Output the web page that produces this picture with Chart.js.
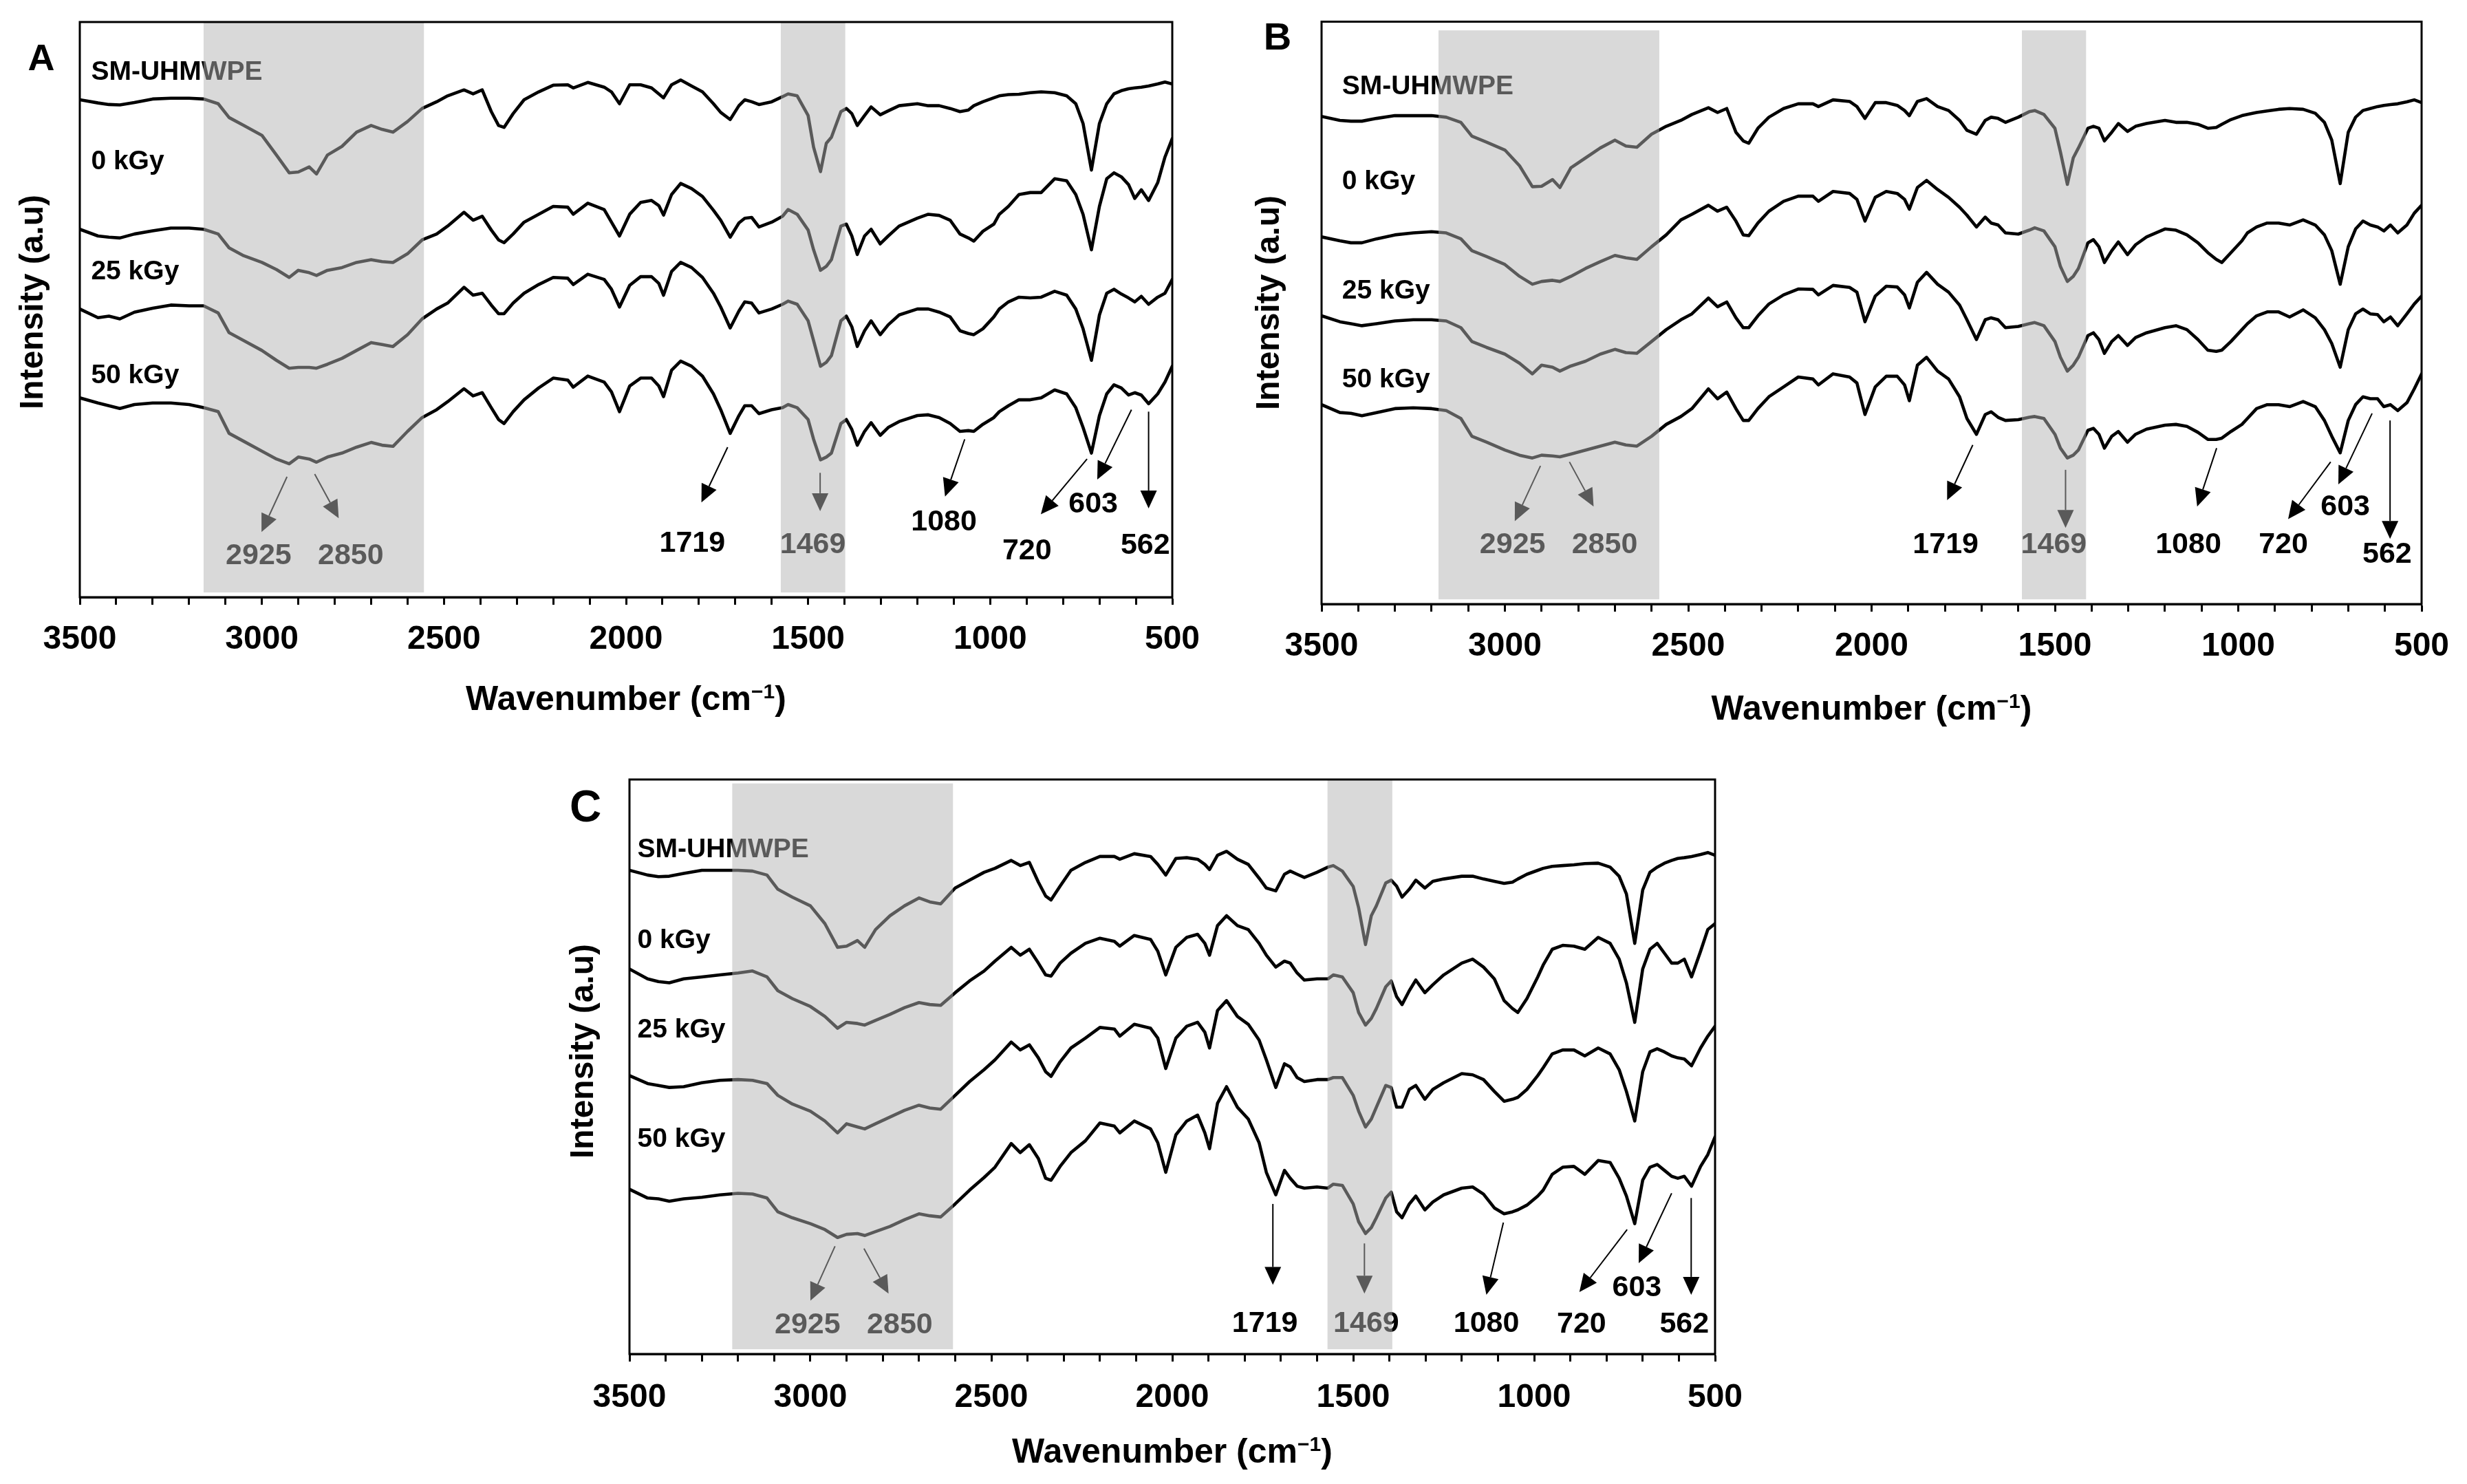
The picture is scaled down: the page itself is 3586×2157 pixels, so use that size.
<!DOCTYPE html>
<html>
<head>
<meta charset="utf-8">
<script src="https://cdn.jsdelivr.net/npm/chart.js@4.4.1/dist/chart.umd.min.js"></script>
<style>
html, body { margin: 0; padding: 0; background: #fff; }
#page { position: relative; width: 3586px; height: 2157px; overflow: hidden; background: #fff; }
canvas { position: absolute; }
</style>
</head>
<body>
<div id="page">
  <canvas id="chartA"></canvas>
  <canvas id="chartB"></canvas>
  <canvas id="chartC"></canvas>
</div>
<script>
// wavenumber grid (cm-1) shared by every spectrum
const wavenumbers = [3500, 3450, 3420, 3390, 3350, 3300, 3250, 3200, 3160, 3120, 3090, 3050, 3000, 2960, 2925, 2900, 2870, 2850, 2820, 2780, 2740, 2700, 2670, 2640, 2600, 2560, 2520, 2490, 2445, 2420, 2395, 2370, 2350, 2335, 2310, 2280, 2240, 2200, 2160, 2145, 2105, 2060, 2040,
  2018, 1990, 1960, 1930, 1910, 1897, 1875, 1850, 1820, 1790, 1760, 1740, 1714, 1690, 1674, 1655, 1635, 1600, 1570, 1555, 1530, 1500, 1485, 1466, 1450, 1436, 1410, 1395, 1380, 1365, 1345, 1327, 1302, 1280, 1250, 1200, 1170, 1140, 1110, 1083, 1060, 1045, 1020, 990, 975, 950, 921, 890, 860, 823, 790, 765, 745, 722, 700, 680, 660, 640, 620, 603, 585, 565, 540, 520, 500];

const seriesNames = ['SM-UHMWPE', '0 kGy', '25 kGy', '50 kGy'];
const tickLabels = ['500', '1000', '1500', '2000', '2500', '3000', '3500'];
const peakLabels = ['2925', '2850', '1719', '1469', '1080', '720', '603', '562'];

// panel A (offset intensity, a.u.)
const smA = [126, 125.2, 124.8, 124.7, 125.3, 126.2, 126.4, 126.4, 126.2, 125, 121.5, 119.5, 117, 112, 107.5, 107.7, 109, 107.2, 112, 114.2, 117.8, 119.5, 118.5, 117.8, 120.5, 123.8, 125.5, 127, 128.5, 127.5, 128.5, 123, 119.5, 119, 122.5, 126, 128, 129.7, 129.8, 129, 130.4, 129.2, 128,
  125, 129.8, 129.8, 129, 127.5, 126.5, 129.8, 131, 129.5, 128, 125, 122.8, 121, 124.5, 126, 125.5, 124.8, 125.5, 126.8, 127.5, 127, 122, 114, 107.8, 115, 116.5, 123, 123.8, 122.5, 119.5, 122, 124.2, 122.2, 123.2, 124.5, 125, 124.5, 124.5, 123.8, 123, 123.4, 124.5, 125.5, 126.5, 127, 127.3, 127.4, 127.8, 128, 127.8, 127, 125, 120, 108.2, 120, 125, 127.5, 128.3, 128.8, 129, 129.2, 129.5, 130, 130.5, 130];
const g0A = [93.2, 91.5, 91.2, 91, 92, 92.8, 93.5, 93.5, 93.2, 92, 88.5, 86.5, 84.8, 83, 81, 82.8, 82.2, 81.5, 82.8, 83.5, 84.8, 85.5, 85, 84.8, 87, 90.5, 92, 94, 97.5, 95.5, 96.5, 93, 90.5, 89.8, 92, 95, 97, 99, 98.8, 97, 99.8, 98.2, 95,
  91.5, 97, 100, 100.5, 99.2, 96.8, 102, 104.8, 103.5, 101.5, 98, 95.5, 91.2, 94.8, 96, 96.2, 93.8, 95, 96.5, 98.2, 97, 93, 88, 82.8, 83.8, 85.5, 94, 94.5, 91.5, 86.8, 91.5, 93.2, 89.5, 91.5, 94, 96, 97, 96.7, 95.5, 92, 91, 90.2, 92.7, 94.5, 97, 99, 102, 102.5, 102.5, 106, 105.5, 102, 97, 88, 99, 106, 107.5, 106.5, 104.5, 101, 103.2, 100.5, 105, 111.5, 116.2];
const g25A = [73, 70.8, 71.2, 70.5, 72.2, 73.2, 74, 73.8, 73.8, 72, 67, 65, 62.5, 60, 58, 58.2, 58.2, 58, 59, 60.5, 62.5, 64.5, 64, 63.5, 66.5, 70.5, 73, 74.5, 78.5, 76.5, 77, 74, 71.8, 71.8, 74.5, 77, 79.2, 81, 80.8, 79.2, 81.8, 80.5, 78,
  73.5, 79, 81.2, 81.2, 79.5, 76.5, 82.5, 84.8, 83.5, 81, 77, 73.5, 68.2, 72.5, 74.8, 74.5, 72, 73, 74.2, 75, 74.2, 70, 65, 58.5, 59.5, 61.2, 70, 71.2, 68.5, 63.5, 67.5, 70, 66.5, 69, 71.5, 73, 73, 72.2, 71, 67.5, 66.8, 66.5, 68, 71, 73, 74.8, 76, 75.8, 76, 77.5, 76.5, 73, 68, 60, 71.5, 77, 78, 76.8, 75.8, 74.8, 76.2, 74.2, 76, 77, 80.5];
const g50A = [50.5, 49.2, 48.5, 47.8, 48.8, 49.2, 49.2, 48.8, 48, 47, 41.5, 39.5, 37, 35, 33.8, 35.5, 35, 34.2, 35.5, 36.5, 38, 39.2, 38.5, 38.2, 42, 45.5, 47.5, 49.5, 52.8, 51, 51.8, 48, 45, 44, 47, 50, 53, 55.5, 55, 53.2, 56, 54.5, 52,
  47, 53.5, 55.5, 55.5, 53.5, 50.8, 57.5, 59.8, 58.5, 56, 51.5, 47.5, 41.5, 46, 48.5, 48.5, 46.5, 47.5, 48, 48.8, 48, 45, 40, 34.8, 35.5, 36.5, 44, 45, 42.5, 38.5, 42, 44.2, 41, 43, 44.5, 46, 46.2, 45.5, 44, 42, 42.2, 42, 43.8, 45.5, 47, 48.5, 50, 50, 50.5, 52.5, 51.5, 48, 43, 36.5, 46, 51.5, 53.8, 53, 51.2, 51.8, 51.2, 49, 51.5, 54.5, 58.5];

// panel B
const smB = [123.5, 122.5, 122.3, 122.3, 123, 123.7, 123.7, 123.7, 123.3, 122, 118.5, 117, 115, 111, 105.7, 105.8, 107.5, 105.5, 110.5, 113, 115.5, 117.5, 116, 115.7, 119, 121, 122.5, 124, 125.7, 124.5, 125.5, 119.5, 117.3, 116.7, 120.5, 123.3, 125.5, 126.7, 126.7, 126, 127.7, 127.3, 126,
  123, 127, 127, 126.3, 125, 123.7, 127.3, 128, 126, 125, 122.5, 120, 119, 122.5, 123.3, 123, 122, 123.3, 124.7, 125, 124, 120.5, 114.5, 106.3, 113, 115.5, 120.5, 121, 120.5, 117.3, 119.5, 121.7, 119.7, 121, 121.7, 122.5, 122, 122, 121.5, 120.5, 120.7, 121.5, 122.7, 123.7, 124, 124.5, 124.9, 125.3, 125.5, 125.3, 124.3, 122, 117.5, 106.5, 119.5, 123.3, 125, 125.5, 126, 126.3, 126.5, 126.7, 127.2, 127.7, 127];
const g0B = [93, 92, 91.5, 91.5, 92.5, 93.5, 94, 94.3, 94, 92.5, 89.5, 88, 86, 83, 81, 81.7, 82, 81.7, 83, 85, 86.7, 88.3, 87.7, 87.3, 90.5, 93.5, 97.3, 98.7, 101, 99.5, 100.5, 97, 93.5, 93.3, 96.5, 99.5, 102, 103.3, 103.3, 102, 104.5, 104, 102.5,
  97, 103, 104.5, 104, 102.5, 100, 105.5, 107.3, 105, 103, 100.5, 98.5, 95.5, 98, 96.5, 96, 94, 93.7, 94.7, 95.3, 94.5, 90.5, 85.5, 81.7, 83, 85, 91.5, 92.3, 90.5, 86.5, 89.5, 91.7, 88.5, 91, 93, 95, 94.7, 93.5, 91.5, 89, 87.3, 86.5, 89, 92, 94, 95.5, 96.5, 96.5, 96, 97.3, 96, 93.5, 89.5, 81, 90.5, 95, 97, 96, 95.5, 94.5, 96, 94, 96, 99, 101];
const g25B = [73, 71.5, 71, 70.5, 71, 71.7, 72, 72, 71.7, 70, 66.5, 65, 63.3, 61, 58.3, 60.5, 60, 59, 60.3, 61.5, 63.3, 64.5, 63.7, 63.5, 66.5, 69.5, 72, 73.5, 77.5, 75.3, 76.5, 72.5, 70, 70, 73, 76, 78.3, 79.8, 79.7, 78.3, 80.7, 80.2, 79,
  71.5, 78, 80.5, 80.3, 78.3, 75, 81.5, 84, 81, 79, 75.7, 72, 67, 72, 72.5, 72, 70, 70.3, 71, 71.3, 70.5, 66.5, 62.5, 59, 60.5, 62.5, 68, 68.7, 67, 63.5, 66.5, 68, 65.5, 67.5, 68.7, 70, 70.5, 69.5, 67, 64.3, 64, 64.3, 66.5, 69.5, 71, 73, 74, 74, 72.7, 74.5, 72.5, 69.5, 66, 60, 69.5, 73.5, 74.7, 73.5, 73.3, 71.5, 72.7, 70.5, 73.5, 76, 78];
const g50B = [50.5, 48.5, 48.3, 47.7, 48.5, 49.5, 49.7, 49.5, 49, 47, 42.5, 41, 39, 37.7, 37, 37.7, 37.5, 37.3, 38, 39, 40, 41, 40.3, 40, 42.5, 45.5, 47.5, 49.5, 54.5, 52, 53.7, 49.5, 46.5, 46.5, 49.5, 52.5, 55, 57.5, 57, 55.5, 58.3, 57.5, 56,
  48, 55, 57.7, 57.7, 55.5, 51.5, 60.5, 62.5, 59, 57, 52.5, 47, 43, 48, 48.7, 47.3, 46.5, 46.7, 47.3, 47.5, 47, 43, 39.5, 37, 37.7, 39, 44, 44.5, 43, 39.5, 42.5, 43.7, 41, 43, 44.3, 45.3, 45.5, 45, 43.5, 41.7, 41.7, 42, 43.7, 45.5, 47, 49.5, 50.5, 50.5, 50, 51.3, 50, 46.5, 42.5, 38.3, 46.5, 50.5, 52.5, 52, 52, 50, 50.5, 49, 51, 54.5, 58.3];

// panel C
const smC = [122.5, 121.3, 120.9, 121, 121.7, 122.5, 122.5, 122.5, 122.3, 121.3, 117.7, 115.7, 113.5, 109, 103, 103.3, 104.7, 103, 107.5, 111, 113.5, 115.5, 114.5, 114, 118, 120, 122, 123, 125, 123.7, 124.5, 119.5, 116, 115, 118.5, 122.5, 124.5, 126, 126, 125.3, 126.7, 126, 124,
  121.3, 125.5, 125.7, 125.3, 124, 122.7, 126.3, 127.3, 125.3, 124, 120.5, 118, 117.3, 121.5, 122.3, 121.5, 120.7, 122, 123.3, 123.7, 122.3, 118.4, 113, 103.7, 111, 113.5, 119.3, 120, 118.5, 115.7, 117.7, 120, 118, 119.7, 120.3, 121, 121, 120.3, 119.7, 119.2, 119.5, 120.3, 121.5, 122.5, 123, 123.5, 123.7, 123.9, 124.2, 124.3, 123.3, 121, 116.5, 104, 117.5, 122, 123.3, 124.3, 125, 125.5, 125.7, 126, 126.5, 127, 126.3];
const g0C = [97.5, 95, 94.3, 94, 95, 95.5, 96, 96.5, 97, 95.5, 92, 90, 88, 85.5, 82.5, 84, 83.7, 83.3, 84.5, 86, 87.7, 89, 88.5, 88.3, 91.5, 94.5, 97, 99.5, 103, 101, 102.5, 99, 96, 95.7, 99, 101.5, 104, 105.3, 104.5, 103.3, 106, 105, 102,
  96, 103, 105.5, 106.3, 104, 101, 108.5, 111, 108.5, 107.5, 104, 101, 98, 99.5, 99, 96.5, 94.7, 95, 95, 96, 95.5, 91.5, 86.5, 83.3, 85, 87.5, 93, 94.5, 90.5, 88.5, 92, 94.7, 91.5, 93.5, 96, 99, 100, 98, 95, 89.5, 87.5, 86.5, 90, 95.5, 98.5, 102.5, 103.5, 103.3, 102.5, 105.5, 104, 100, 94, 84, 97.5, 102.5, 104, 101.5, 99, 99, 100, 95.5, 102, 107.5, 109];
const g25C = [70.5, 68.5, 68, 67.5, 67.7, 68.7, 69.3, 69.5, 69.3, 68.5, 65.5, 63.3, 61.5, 59, 56, 58.3, 57.5, 57, 58.3, 60, 61.7, 63, 62.3, 62, 65.5, 69, 72, 74.5, 79, 77, 78.3, 75, 71.5, 70.3, 74, 77.5, 80, 82.7, 82.3, 80.5, 83.5, 82.5, 80,
  72.3, 80, 83, 84, 81.5, 77.5, 87, 89.5, 85.5, 83.5, 79.5, 74.5, 67.5, 73.5, 72.7, 70, 69, 69.5, 69.5, 70, 70, 65.5, 61.5, 57.5, 59.5, 62.5, 68, 67.5, 62.5, 62.5, 67, 68, 64.5, 67, 68.7, 71, 70.7, 69.5, 66.5, 64, 64.5, 65, 67, 70.5, 72.5, 76, 77, 77, 75.5, 77.5, 76, 72, 66.5, 59, 71.5, 76.5, 77.3, 76.5, 75.5, 75, 74.7, 73, 77.5, 80.5, 83];
const g50C = [41.7, 39.5, 39.3, 38.7, 39.3, 39.7, 40.3, 40.7, 40.5, 39.5, 36, 34.5, 33, 31.5, 29.5, 30.3, 30.5, 30, 31, 32.3, 34, 35.5, 35, 34.7, 38, 41.5, 44.7, 47.3, 53.3, 51, 53, 49.5, 44.5, 44, 47.5, 51, 54, 58.5, 57.7, 56, 59, 57, 53.5,
  46, 55.5, 59, 60.5, 56, 52, 63.5, 67.7, 62.5, 59.5, 53.5, 46, 40.3, 46.5, 44.5, 42.5, 42, 42.3, 42, 43, 42.7, 38, 33.5, 30.5, 32, 34.5, 39.5, 41, 36, 34.5, 38, 40, 36.5, 38.5, 40.3, 42, 42.3, 40.5, 37, 35.5, 36, 36.5, 37.7, 40, 41.5, 45.5, 47.3, 47.5, 45.5, 49, 48.5, 44.5, 40, 33, 44, 47.3, 48, 46.5, 45, 44.5, 45, 42.5, 47.5, 50.5, 55];

const FONT = '"Liberation Sans", Arial, Helvetica, sans-serif';
Chart.defaults.font.family = FONT;

// where each panel sits and where its annotations go (wavenumber, intensity)
const panels = [
  { id: 'chartA', letter: 'A', series: [smA, g0A, g25A, g50A], yMax: 145.7,
    x: 0, y: 0, w: 1800, h: 1080, pl: 116, pr: 96, pt: 32, axisH: 212, tickPad: 22, titleOff: 164,
    letterX: 60, letterY: 102, letterSize: 54, yTitleX: 49, yTitleY: 439,
    nameX: 3469, nameY: [133, 110.2, 82.4, 56],
    bands: [[3160, 2555, 1.2, 145.7], [1575, 1398, 1.2, 145.7]],
    arrows: [[2931, 30.5, 3001, 16.5], [2855, 31.2, 2789, 20], [1721, 38, 1793, 24], [1467, 31.5, 1467, 21.8], [1070, 40, 1124, 25.5], [734, 35, 861, 21], [612, 47.5, 706, 29.8], [565, 47, 565, 22.5]],
    peakPos: [[3009, 10.5], [2756, 10.5], [1818, 13.5], [1487, 13.2], [1127, 19], [899, 11.7], [717, 23.5], [574, 13]] },
  { id: 'chartB', letter: 'B', series: [smB, g0B, g25B, g50B], yMax: 147.5,
    x: 1800, y: 0, w: 1786, h: 1090, pl: 121, pr: 66, pt: 31.5, axisH: 212, tickPad: 22, titleOff: 168,
    letterX: 57, letterY: 72, letterSize: 56, yTitleX: 46, yTitleY: 440,
    nameX: 3444, nameY: [131, 107, 79.3, 56.7],
    bands: [[3181, 2579, 1.2, 145.3], [1590, 1415, 1.2, 145.3]],
    arrows: [[2903, 35, 2973, 21], [2824, 36, 2758, 24.7], [1724, 40.3, 1794, 26.3], [1471, 34, 1471, 19.3], [1059, 39.5, 1112, 24.7], [748, 36, 864, 21.5], [635, 48.3, 727, 30.3], [586, 46.5, 586, 16.5]],
    peakPos: [[2979, 15], [2728, 15], [1798, 15], [1503, 15], [1136, 15], [877, 15], [708, 24.5], [594, 12.5]] },
  { id: 'chartC', letter: 'C', series: [smC, g0C, g25C, g50C], yMax: 145.5,
    x: 780, y: 1100, w: 1820, h: 1057, pl: 135, pr: 107, pt: 33, axisH: 189, tickPad: 24, titleOff: 158,
    letterX: 71, letterY: 94, letterSize: 64, yTitleX: 69, yTitleY: 428,
    nameX: 3478, nameY: [127.7, 104.7, 82, 54.3],
    bands: [[3216, 2606, 1.2, 144.5], [1571, 1392, 1.2, 145.5]],
    arrows: [[2932, 27.3, 3000, 13.5], [2852, 26.7, 2784, 15.3], [1722, 38, 1722, 17.5], [1469, 28, 1469, 15.3], [1085, 33.3, 1132, 15], [743, 31.5, 875, 15.7], [620, 40.7, 711, 23], [566, 39.5, 566, 15]],
    peakPos: [[3008, 7.3], [2753, 7.3], [1744, 7.7], [1464, 7.7], [1132, 7.7], [869, 7.5], [716, 16.7], [585, 7.5]] }
];

function arrow(ctx, x1, y1, x2, y2) {
  const a = Math.atan2(y2 - y1, x2 - x1), L = 26, W = 12;
  const bx = x2 - L * Math.cos(a), by = y2 - L * Math.sin(a);
  ctx.beginPath();
  ctx.moveTo(x1, y1);
  ctx.lineTo(bx, by);
  ctx.stroke();
  ctx.beginPath();
  ctx.moveTo(x2, y2);
  ctx.lineTo(bx + W * Math.sin(a), by - W * Math.cos(a));
  ctx.lineTo(bx - W * Math.sin(a), by + W * Math.cos(a));
  ctx.closePath();
  ctx.fill();
}

function decor(p) {
  return {
    id: 'decor' + p.letter,
    afterDatasetsDraw(chart) {
      const ctx = chart.ctx, ca = chart.chartArea;
      const px = v => chart.scales.x.getPixelForValue(v);
      const py = v => chart.scales.y.getPixelForValue(v);
      ctx.save();
      ctx.fillStyle = '#000';
      ctx.strokeStyle = '#000';
      ctx.textAlign = 'left';
      ctx.textBaseline = 'middle';
      ctx.font = 'bold 39px ' + FONT;
      seriesNames.forEach((n, i) => ctx.fillText(n, px(p.nameX), py(p.nameY[i])));
      ctx.lineWidth = 2;
      p.arrows.forEach(a => arrow(ctx, px(a[0]), py(a[1]), px(a[2]), py(a[3])));
      ctx.textAlign = 'center';
      ctx.font = 'bold 43px ' + FONT;
      peakLabels.forEach((t, i) => ctx.fillText(t, px(p.peakPos[i][0]), py(p.peakPos[i][1])));
      // translucent highlight bands over the curves
      ctx.fillStyle = 'rgba(179,179,179,0.5)';
      p.bands.forEach(b => {
        const l = px(b[0]), r = px(b[1]), t = py(b[3]), bt = py(b[2]);
        ctx.fillRect(l, t, r - l, bt - t);
      });
      ctx.lineWidth = 3;
      ctx.strokeRect(ca.left, ca.top, ca.right - ca.left, ca.bottom - ca.top);
      ctx.restore();
    },
    afterDraw(chart) {
      const ctx = chart.ctx, ca = chart.chartArea;
      ctx.save();
      ctx.fillStyle = '#000';
      ctx.textAlign = 'center';
      ctx.textBaseline = 'alphabetic';
      ctx.font = 'bold ' + p.letterSize + 'px ' + FONT;
      ctx.fillText(p.letter, p.letterX, p.letterY);

      ctx.save();
      ctx.translate(p.yTitleX, p.yTitleY);
      ctx.rotate(-Math.PI / 2);
      ctx.textBaseline = 'middle';
      ctx.font = 'bold 48px ' + FONT;
      ctx.fillText('Intensity (a.u)', 0, 0);
      ctx.restore();

      const main = 'bold 50px ' + FONT, sup = 'bold 30px ' + FONT;
      const t1 = 'Wavenumber (cm', t2 = '\u22121', t3 = ')';
      ctx.font = main; const w1 = ctx.measureText(t1).width, w3 = ctx.measureText(t3).width;
      ctx.font = sup; const w2 = ctx.measureText(t2).width;
      let x0 = (ca.left + ca.right) / 2 - (w1 + w2 + w3) / 2;
      const base = ca.bottom + p.titleOff;
      ctx.textAlign = 'left';
      ctx.font = main; ctx.fillText(t1, x0, base); x0 += w1;
      ctx.font = sup; ctx.fillText(t2, x0, base - 17); x0 += w2;
      ctx.font = main; ctx.fillText(t3, x0, base);
      ctx.restore();
    }
  };
}

panels.forEach(p => {
  const cv = document.getElementById(p.id);
  cv.width = p.w; cv.height = p.h;
  cv.style.left = p.x + 'px'; cv.style.top = p.y + 'px';
  new Chart(cv.getContext('2d'), {
    type: 'line',
    data: {
      datasets: p.series.map((s, i) => ({
        label: seriesNames[i],
        data: wavenumbers.map((w, j) => ({ x: w, y: s[j] })),
        borderColor: '#000',
        borderWidth: 4.6,
        pointRadius: 0,
        tension: 0,
        fill: false,
        borderJoinStyle: 'round',
        borderCapStyle: 'round'
      }))
    },
    options: {
      responsive: false,
      animation: false,
      devicePixelRatio: 1,
      events: [],
      layout: { padding: { left: p.pl, right: p.pr, top: p.pt, bottom: 0 } },
      plugins: { legend: { display: false }, tooltip: { enabled: false } },
      scales: {
        x: {
          type: 'linear', min: 500, max: 3500, reverse: true,
          afterFit: s => { s.height = p.axisH; },
          grid: { drawOnChartArea: false, drawTicks: true, tickLength: 11, tickWidth: 3, tickColor: '#000' },
          border: { display: true, color: '#000', width: 3 },
          ticks: {
            stepSize: 100, autoSkip: false, maxRotation: 0, padding: p.tickPad, color: '#000',
            font: { size: 48, weight: 'bold' },
            callback: v => tickLabels.includes(String(v)) ? String(v) : ''
          }
        },
        y: { display: false, min: 0, max: p.yMax }
      }
    },
    plugins: [decor(p)]
  });
});
</script>
</body>
</html>
